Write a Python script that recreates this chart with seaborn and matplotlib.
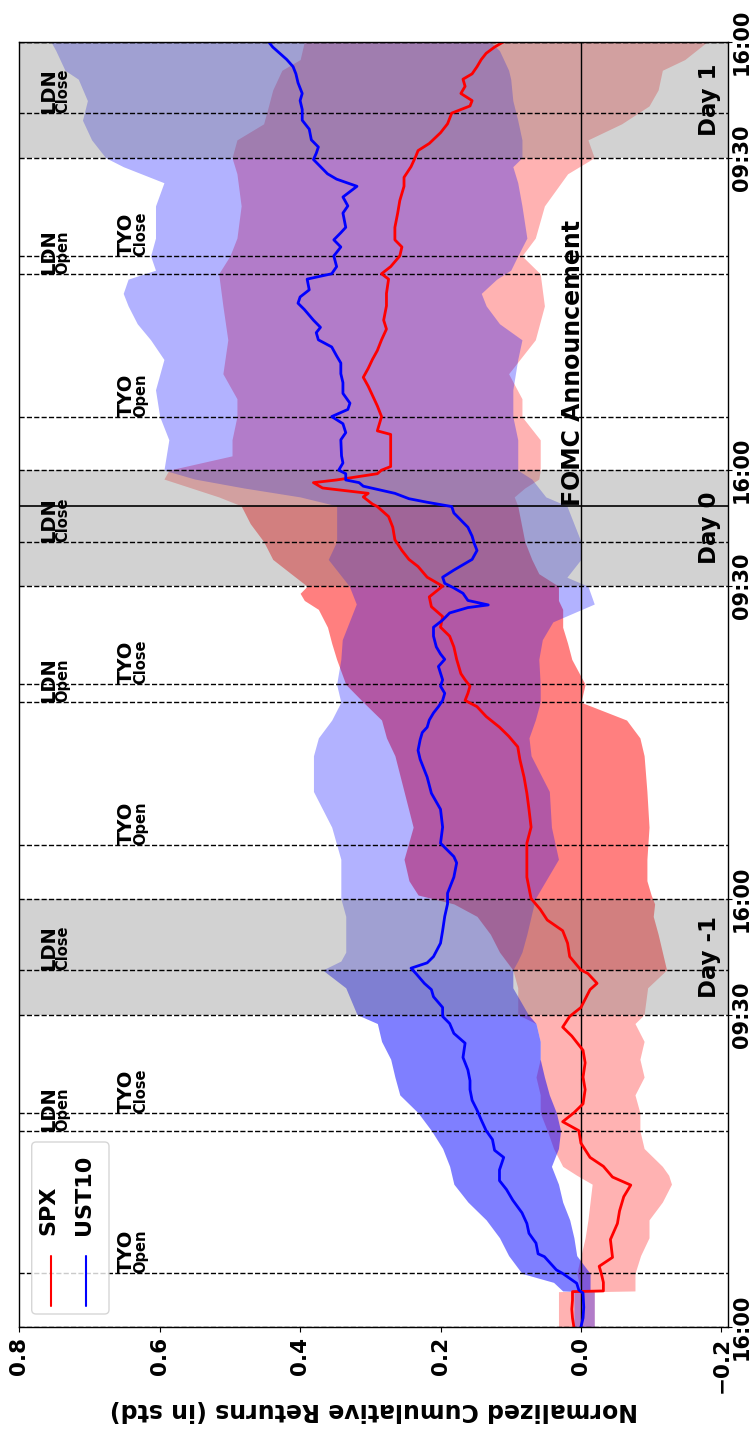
import numpy as np
import matplotlib
matplotlib.use("Agg")
import matplotlib.pyplot as plt
import seaborn as sns
from matplotlib.patches import FancyBboxPatch
from matplotlib.lines import Line2D

# ---------------- data (hours since Day -2 16:00) ----------------
spx_line = [
    (0.0, 0.010), (0.5, 0.012), (1.0, 0.013), (1.5, 0.012), (1.98, 0.012), (2.02, -0.032),
    (2.5, -0.032), (3.0, -0.029), (3.4, -0.026), (3.9, -0.045), (4.9, -0.042), (5.8, -0.052),
    (6.5, -0.055), (7.3, -0.061), (7.95, -0.071), (8.4, -0.045), (9.0, -0.032), (9.5, -0.013),
    (10.3, 0.000), (11.0, 0.003), (11.5, 0.026), (12.0, 0.010), (12.5, -0.003), (13.3, -0.006),
    (14.0, -0.003), (14.8, -0.006), (15.5, -0.003), (16.3, 0.013), (16.8, 0.026), (17.4, 0.016),
    (17.9, 0.000), (18.9, -0.013), (19.25, -0.023), (19.8, -0.010), (20.0, 0.000), (20.75, 0.016),
    (21.5, 0.019), (22.2, 0.026), (22.8, 0.048), (23.4, 0.058), (24.0, 0.071), (25.2, 0.077),
    (27.1, 0.077), (28.0, 0.071), (29.0, 0.074), (29.9, 0.077), (30.8, 0.081), (31.8, 0.087),
    (32.5, 0.090), (33.1, 0.103), (33.6, 0.116), (34.2, 0.135), (34.75, 0.148), (35.1, 0.165),
    (35.5, 0.161), (35.9, 0.158), (36.25, 0.165), (36.6, 0.171), (37.4, 0.177), (38.1, 0.181),
    (38.7, 0.187), (39.2, 0.200), (39.8, 0.197), (40.35, 0.213), (40.9, 0.216), (41.5, 0.197),
    (42.0, 0.219), (42.6, 0.232), (43.0, 0.245), (43.5, 0.255), (44.1, 0.265), (44.8, 0.268),
    (45.4, 0.274), (45.96, 0.290), (46.1, 0.297), (46.5, 0.310), (46.7, 0.303), (47.0, 0.368),
    (47.3, 0.381), (47.45, 0.348), (47.8, 0.290), (48.0, 0.284), (48.2, 0.271), (50.0, 0.271),
    (50.2, 0.290), (51.0, 0.284), (51.6, 0.290), (52.7, 0.303), (53.2, 0.310), (53.7, 0.303),
    (54.2, 0.297), (54.7, 0.290), (55.3, 0.284), (55.9, 0.277), (56.4, 0.281), (57.2, 0.277),
    (57.9, 0.277), (58.7, 0.274), (59.0, 0.284), (59.4, 0.271), (60.0, 0.258), (60.5, 0.255),
    (60.9, 0.265), (61.6, 0.265), (62.4, 0.261), (63.1, 0.258), (63.9, 0.252), (64.4, 0.252),
    (65.0, 0.242), (65.6, 0.235), (65.9, 0.232), (66.3, 0.216), (66.9, 0.200), (67.4, 0.190),
    (68.0, 0.184), (68.4, 0.158), (68.7, 0.155), (69.1, 0.171), (69.5, 0.165), (69.9, 0.168),
    (70.2, 0.155), (70.6, 0.148), (71.0, 0.142), (71.35, 0.135), (71.7, 0.123), (72.0, 0.110),
]

ust_line = [
    (0.0, 0.000), (0.5, -0.003), (1.1, -0.004), (1.9, -0.003), (2.07, 0.003), (2.45, 0.006),
    (3.0, 0.026), (3.2, 0.035), (3.94, 0.052), (4.1, 0.061), (4.7, 0.064), (5.25, 0.074),
    (5.8, 0.077), (6.4, 0.084), (7.1, 0.097), (7.7, 0.106), (8.2, 0.116), (8.8, 0.116),
    (9.5, 0.110), (9.9, 0.123), (10.5, 0.126), (11.0, 0.135), (11.6, 0.142), (12.15, 0.148),
    (12.7, 0.155), (13.3, 0.158), (13.8, 0.158), (14.4, 0.161), (15.1, 0.168), (15.9, 0.165),
    (16.45, 0.181), (17.0, 0.187), (17.4, 0.197), (17.9, 0.197), (18.5, 0.210), (18.9, 0.213),
    (19.25, 0.223), (19.8, 0.235), (20.1, 0.242), (20.4, 0.219), (20.75, 0.210), (21.5, 0.200),
    (22.2, 0.197), (23.0, 0.194), (23.7, 0.190), (24.3, 0.190), (25.2, 0.181), (26.0, 0.177),
    (26.35, 0.181), (27.1, 0.200), (28.0, 0.197), (29.0, 0.200), (29.9, 0.213), (30.8, 0.219),
    (31.8, 0.229), (32.3, 0.232), (32.9, 0.229), (33.3, 0.226), (33.6, 0.219), (34.0, 0.216),
    (34.4, 0.210), (34.75, 0.203), (35.1, 0.197), (35.5, 0.194), (35.9, 0.200), (36.25, 0.197),
    (37.0, 0.203), (37.4, 0.194), (37.7, 0.200), (38.1, 0.206), (38.7, 0.210), (39.2, 0.210),
    (39.6, 0.197), (40.0, 0.187), (40.3, 0.161), (40.45, 0.132), (40.7, 0.161), (41.1, 0.168),
    (41.4, 0.181), (41.66, 0.194), (42.0, 0.197), (42.4, 0.181), (43.0, 0.155), (43.5, 0.148),
    (43.9, 0.152), (44.3, 0.155), (44.8, 0.161), (45.2, 0.171), (45.6, 0.181), (45.96, 0.184),
    (46.2, 0.219), (46.4, 0.245), (46.7, 0.265), (47.1, 0.310), (47.3, 0.316), (47.45, 0.335),
    (47.8, 0.335), (48.0, 0.345), (48.4, 0.339), (48.8, 0.341), (49.7, 0.342), (50.1, 0.335),
    (50.6, 0.339), (51.0, 0.355), (51.4, 0.332), (51.75, 0.329), (52.3, 0.339), (52.9, 0.339),
    (53.4, 0.342), (54.0, 0.342), (54.4, 0.348), (54.9, 0.355), (55.3, 0.374), (55.7, 0.377),
    (56.0, 0.371), (56.4, 0.381), (57.0, 0.394), (57.35, 0.403), (57.7, 0.400), (58.1, 0.387),
    (58.7, 0.390), (59.0, 0.355), (59.4, 0.348), (60.0, 0.352), (60.5, 0.342), (60.9, 0.352),
    (61.3, 0.342), (61.6, 0.335), (62.4, 0.339), (62.8, 0.332), (63.3, 0.339), (63.9, 0.319),
    (64.3, 0.348), (64.6, 0.361), (65.0, 0.371), (65.4, 0.381), (65.75, 0.377), (66.1, 0.374),
    (66.5, 0.384), (67.1, 0.387), (67.6, 0.397), (68.2, 0.397), (68.7, 0.400), (69.1, 0.397),
    (69.7, 0.403), (70.2, 0.406), (70.6, 0.410), (71.0, 0.419), (71.35, 0.429), (71.7, 0.439),
    (72.0, 0.445),
]

# band: (hour, upper, lower)
spx_band = [
    (0.0, 0.032, -0.019), (1.98, 0.032, -0.019), (2.02, 0.000, -0.077), (3.0, 0.006, -0.077),
    (4.0, 0.000, -0.085), (5.0, -0.006, -0.097), (6.0, -0.010, -0.097), (7.0, -0.013, -0.116),
    (8.0, -0.016, -0.129), (8.5, 0.006, -0.125), (9.0, 0.026, -0.116), (10.0, 0.039, -0.090),
    (11.0, 0.048, -0.084), (12.0, 0.058, -0.084), (13.0, 0.058, -0.077), (14.0, 0.064, -0.090),
    (15.0, 0.058, -0.084), (16.0, 0.058, -0.090), (17.0, 0.064, -0.077), (17.5, 0.090, -0.090),
    (19.0, 0.090, -0.095), (20.0, 0.097, -0.122), (21.0, 0.116, -0.116), (22.0, 0.129, -0.110),
    (23.0, 0.148, -0.103), (23.7, 0.181, -0.105), (24.2, 0.232, -0.100), (25.0, 0.245, -0.094),
    (26.2, 0.252, -0.094), (28.0, 0.239, -0.097), (30.0, 0.252, -0.094), (32.0, 0.265, -0.090),
    (33.0, 0.277, -0.084), (34.0, 0.284, -0.065), (35.0, 0.310, 0.000), (36.0, 0.335, -0.006),
    (37.4, 0.348, 0.013), (38.3, 0.355, 0.019), (39.2, 0.361, 0.026), (40.2, 0.374, 0.026),
    (40.7, 0.394, 0.032), (41.1, 0.400, 0.032), (41.5, 0.390, 0.032), (42.2, 0.413, 0.060),
    (43.0, 0.439, 0.070), (44.0, 0.452, 0.080), (45.0, 0.471, 0.085), (46.0, 0.484, 0.090),
    (46.5, 0.516, 0.095), (47.0, 0.555, 0.080), (47.5, 0.594, 0.060), (48.0, 0.587, 0.058),
    (48.8, 0.497, 0.058), (49.7, 0.497, 0.058), (51.0, 0.490, 0.084), (52.0, 0.490, 0.084),
    (53.4, 0.510, 0.103), (55.3, 0.503, 0.065), (57.2, 0.510, 0.052), (59.0, 0.516, 0.058),
    (60.0, 0.500, 0.084), (61.0, 0.490, 0.065), (62.8, 0.484, 0.052), (64.6, 0.490, 0.019),
    (65.5, 0.497, -0.019), (66.5, 0.490, -0.010), (67.4, 0.452, -0.058), (68.4, 0.445, -0.097),
    (69.3, 0.439, -0.110), (70.4, 0.426, -0.116), (71.0, 0.400, -0.148), (72.0, 0.394, -0.180),
]

ust_band = [
    (0.0, 0.010, -0.019), (1.98, 0.010, -0.019), (2.02, 0.026, -0.013), (2.5, 0.039, -0.013),
    (3.0, 0.084, -0.013), (4.0, 0.103, 0.006), (5.0, 0.116, 0.010), (6.0, 0.135, 0.016),
    (7.0, 0.161, 0.026), (8.0, 0.181, 0.032), (9.0, 0.187, 0.042), (10.0, 0.197, 0.032),
    (11.0, 0.213, 0.029), (12.0, 0.232, 0.035), (13.0, 0.258, 0.045), (14.0, 0.265, 0.052),
    (15.0, 0.271, 0.058), (16.0, 0.284, 0.058), (17.0, 0.290, 0.064), (17.5, 0.319, 0.075),
    (19.0, 0.335, 0.097), (20.0, 0.368, 0.097), (20.5, 0.342, 0.090), (21.0, 0.335, 0.084),
    (22.0, 0.335, 0.077), (23.0, 0.335, 0.071), (24.0, 0.342, 0.065), (26.2, 0.342, 0.032),
    (28.0, 0.355, 0.042), (30.0, 0.381, 0.045), (32.0, 0.381, 0.071), (33.0, 0.374, 0.074),
    (34.0, 0.355, 0.065), (35.0, 0.342, 0.058), (36.0, 0.348, 0.058), (37.4, 0.342, 0.060),
    (38.5, 0.340, 0.055), (39.5, 0.330, 0.040), (40.5, 0.320, -0.019), (41.5, 0.330, -0.010),
    (42.0, 0.340, 0.020), (43.0, 0.360, 0.000), (44.0, 0.348, 0.000), (45.0, 0.348, 0.010),
    (46.0, 0.348, 0.020), (46.5, 0.400, 0.050), (47.0, 0.480, 0.060), (47.5, 0.550, 0.070),
    (48.0, 0.594, 0.090), (49.7, 0.587, 0.090), (51.0, 0.600, 0.097), (52.5, 0.606, 0.097),
    (54.2, 0.594, 0.090), (55.3, 0.613, 0.084), (56.2, 0.632, 0.116), (57.2, 0.645, 0.135),
    (57.9, 0.652, 0.142), (58.7, 0.645, 0.120), (59.2, 0.606, 0.100), (60.0, 0.613, 0.090),
    (61.0, 0.606, 0.077), (62.8, 0.606, 0.084), (64.1, 0.594, 0.090), (65.0, 0.652, 0.097),
    (65.5, 0.677, 0.084), (66.5, 0.697, 0.084), (67.6, 0.710, 0.090), (68.7, 0.703, 0.097),
    (69.9, 0.716, 0.100), (70.4, 0.735, 0.103), (71.5, 0.748, 0.116), (72.0, 0.755, 0.129),
]

series_names = ["SPX", "UST10"]
series_colors = ["red", "blue"]

time_ticks = [0, 17.5, 24, 41.5, 48, 65.5, 72]
time_labels = ["16:00", "09:30", "16:00", "09:30", "16:00", "09:30", "16:00"]
value_ticks = [0.8, 0.6, 0.4, 0.2, 0.0, -0.2]

day_names = ["Day -1", "Day 0", "Day 1"]
us_sessions = [(17.5, 24.0), (41.5, 48.0), (65.5, 72.0)]
ldn_close_hours = [20.0, 44.0, 68.0]
event_names = ["TYO", "LDN", "TYO"]
event_kinds = ["Open", "Open", "Close"]
event_hours = [3.0, 11.0, 12.0]
fomc_hour = 46.0

# ---------------- style ----------------
sns.set_style("ticks", rc={"axes.edgecolor": "black", "xtick.color": "black",
                           "ytick.color": "black", "text.color": "black",
                           "axes.labelcolor": "black"})
plt.rcParams["font.family"] = ["DejaVu Sans"]
plt.rcParams["font.weight"] = "bold"

W, H = 755, 1430
fig = plt.figure(figsize=(W / 100, H / 100), dpi=100)
ax_l, ax_r, ax_t, ax_b = 19.3, 728.0, 41.7, 1327.0
ax = fig.add_axes([ax_l / W, (H - ax_b) / H, (ax_r - ax_l) / W, (ax_b - ax_t) / H])

# ---------------- bands ----------------
def draw_band(pts, color, spans):
    arr = np.array(pts)
    t, hi, lo = arr[:, 0], arr[:, 1], arr[:, 2]
    for t0, t1, a in spans:
        m = (t >= t0) & (t <= t1)
        ax.fill_betweenx(t[m], lo[m], hi[m], color=color, alpha=a, lw=0, zorder=1)

draw_band(spx_band, "red", [(0, 20, 0.3), (20, 46, 0.5), (46, 72, 0.3)])
draw_band(ust_band, "blue", [(0, 2.02, 0.3), (2.02, 20, 0.5), (20, 72, 0.3)])

# US session shading
for s0, s1 in us_sessions:
    ax.axhspan(s0, s1, color="grey", alpha=0.35, lw=0, zorder=1)

# ---------------- lines ----------------
for pts, name, col in [(spx_line, "SPX", "red"), (ust_line, "UST10", "blue")]:
    arr = np.array(pts)
    sns.lineplot(x=arr[:, 1], y=arr[:, 0], orient="y", sort=False, estimator=None,
                 color=col, lw=2, ax=ax, legend=False, zorder=2)

# ---------------- reference lines ----------------
dash_hours = [0.0, 72.0]
for d in (0, 24, 48):
    dash_hours += [h + d for h in event_hours]
dash_hours += [s for se in us_sessions for s in se]
dash_hours += ldn_close_hours
for h in dash_hours:
    ax.axhline(h, color="black", ls="--", lw=1, zorder=1.8)
ax.axvline(0.0, color="black", lw=1, zorder=1.8)
ax.axhline(fomc_hour, color="black", lw=1.2, zorder=1.8)

# ---------------- annotations ----------------
def event_label(h, main, sub, base_main, base_sub):
    ax.text(base_main, h, main, rotation=90, rotation_mode="anchor", ha="left",
            va="baseline", fontsize=14, fontweight="bold", zorder=4)
    ax.text(base_sub, h, sub, rotation=90, rotation_mode="anchor", ha="left",
            va="baseline", fontsize=10.5, fontweight="bold", zorder=4)

for d in (0, 24, 48):
    for name, kind, h in zip(event_names, event_kinds, event_hours):
        if name == "LDN":
            event_label(h + d, name, kind, 0.750, 0.731)
        else:
            event_label(h + d, name, kind, 0.639, 0.620)
for h in ldn_close_hours:
    event_label(h, "LDN", "Close", 0.750, 0.731)

for name, (s0, s1) in zip(day_names, us_sessions):
    ax.text(-0.2, (s0 + s1) / 2, name, rotation=90, rotation_mode="anchor",
            ha="center", va="bottom", fontsize=16.5, fontweight="bold", zorder=4)

ax.text(0.002, fomc_hour, "FOMC Announcement", rotation=90, rotation_mode="anchor",
        ha="left", va="baseline", fontsize=17, fontweight="bold", zorder=4)

# ---------------- axes ----------------
ax.set_xlim(0.8, -0.2095)
ax.set_ylim(0, 72)
ax.set_xticks(value_ticks)
ax.tick_params(axis="x", labelrotation=90, labelsize=15.5, length=3.5, width=0.8)
for lab in ax.get_xticklabels():
    lab.set_fontweight("bold")
ax.yaxis.tick_right()
ax.set_yticks(time_ticks)
ax.set_yticklabels(time_labels, rotation=90, va="center", fontsize=15, fontweight="bold")
ax.tick_params(axis="y", length=3, width=0.8, pad=0)
ax.set_ylabel("")
ax.set_xlabel("Normalized Cumulative Returns (in std)", rotation=180, fontsize=17,
              fontweight="bold")
for sp in ax.spines.values():
    sp.set_linewidth(1.0)
    sp.set_zorder(5)

# ---------------- manual (rotated) legend ----------------
aw, ah = ax_r - ax_l, ax_b - ax_t
def fx(px):
    return (px - ax_l) / aw
def fy(py):
    return (ax_b - py) / ah

frame = FancyBboxPatch((fx(31.7), fy(1314)), fx(109) - fx(31.7), fy(1142) - fy(1314),
                       boxstyle="round,pad=0,rounding_size=0.0062", mutation_aspect=aw / ah,
                       transform=ax.transAxes, facecolor="white", edgecolor="0.8",
                       alpha=0.8, lw=1, zorder=6)
ax.add_patch(frame)
for name, col, xp in zip(series_names, series_colors, [50.7, 86.0]):
    ax.add_line(Line2D([fx(xp), fx(xp)], [fy(1306), fy(1256)], transform=ax.transAxes,
                       color=col, lw=1.5, zorder=7))
    ax.text(fx(xp - 2), fy(1235), name, transform=ax.transAxes, rotation=90,
            rotation_mode="anchor", ha="left", va="center", fontsize=16,
            fontweight="bold", zorder=7)

fig.savefig("out.png", dpi=100)
